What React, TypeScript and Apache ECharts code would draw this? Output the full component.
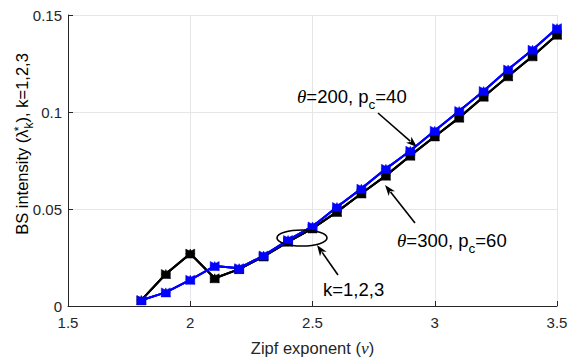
import React, { useEffect, useRef } from "react";
import * as echarts from "echarts";

// Zipf exponent values (x)
const zipfExponent = [1.8, 1.9, 2.0, 2.1, 2.2, 2.3, 2.4, 2.5, 2.6, 2.7, 2.8, 2.9, 3.0, 3.1, 3.2, 3.3, 3.4, 3.5];
// BS intensity for theta=200, pc=40 (blue)
const intensityTheta200 = [0.003, 0.007, 0.0135, 0.0206, 0.0195, 0.026, 0.034, 0.041, 0.051, 0.0605, 0.0707, 0.08, 0.0903, 0.1005, 0.1108, 0.1219, 0.1321, 0.1432];
// BS intensity for theta=300, pc=60 (black)
const intensityTheta300 = [0.003, 0.0165, 0.027, 0.0143, 0.019, 0.0255, 0.0331, 0.04, 0.0485, 0.058, 0.0672, 0.0775, 0.0874, 0.0971, 0.1079, 0.1184, 0.1287, 0.1398];
const kMarkers = [
  { symbol: "triangle", rotate: 90 },
  { symbol: "triangle", rotate: -90 },
  { symbol: "triangle", rotate: 0 },
];

const FONT = "'Liberation Sans', Arial, Helvetica, sans-serif";
const SERIF = "'Liberation Serif', 'Times New Roman', serif";

function arrow(x1: number, y1: number, x2: number, y2: number) {
  const dx = x2 - x1;
  const dy = y2 - y1;
  const len = Math.sqrt(dx * dx + dy * dy);
  const ux = dx / len;
  const uy = dy / len;
  const hl = 11;
  const hw = 4;
  const bx = x2 - ux * hl;
  const by = y2 - uy * hl;
  return [
    {
      type: "line",
      shape: { x1, y1, x2: bx + ux * 2, y2: by + uy * 2 },
      style: { stroke: "#000", lineWidth: 1.6 },
      z: 100,
    },
    {
      type: "polygon",
      shape: {
        points: [
          [x2, y2],
          [bx - uy * hw, by + ux * hw],
          [bx + ux * 3, by + uy * 3],
          [bx + uy * hw, by - ux * hw],
        ],
      },
      style: { fill: "#000" },
      z: 100,
    },
  ];
}

const richAnn = {
  m: { fontSize: 18.5, fontFamily: FONT, lineHeight: 21, verticalAlign: "top", color: "#000" },
  it: { fontSize: 19, fontFamily: SERIF, fontStyle: "italic", lineHeight: 21, verticalAlign: "top", color: "#000" },
  sub: { fontSize: 13.5, fontFamily: FONT, lineHeight: 13, padding: [11, 0, 0, 0], verticalAlign: "top", color: "#000" },
};

export default function App() {
  const ref = useRef<HTMLDivElement>(null);
  useEffect(() => {
    if (!ref.current) return;
    const chart = echarts.init(ref.current, undefined, { renderer: "svg" });
    const series: any[] = [];
    const groups = [
      { data: intensityTheta300, color: "#000000", name: "theta300" },
      { data: intensityTheta200, color: "#0000ff", name: "theta200" },
    ];
    groups.forEach((g) => {
      kMarkers.forEach((mk, i) => {
        series.push({
          type: "line",
          name: g.name + "_k" + (i + 1),
          data: zipfExponent.map((x, j) => [x, g.data[j]]),
          symbol: mk.symbol,
          symbolRotate: mk.rotate,
          symbolSize: 9,
          showAllSymbol: true,
          lineStyle: { color: g.color, width: 2 },
          itemStyle: { color: g.color, borderColor: g.color, borderWidth: 0.5 },
          z: 2,
        });
      });
    });

    chart.setOption({
      animation: false,
      grid: { left: 68, right: 16, top: 15, bottom: 54, containLabel: false },
      xAxis: {
        type: "value",
        min: 1.5,
        max: 3.5,
        interval: 0.5,
        name: "{m|Zipf exponent (}{it|ν}{m|)}",
        nameLocation: "middle",
        nameGap: 33,
        nameTextStyle: {
          fontSize: 16.5,
          fontFamily: FONT,
          color: "#262626",
          rich: {
            m: { fontSize: 16.5, fontFamily: FONT, color: "#262626" },
            it: { fontSize: 17.5, fontFamily: SERIF, fontStyle: "italic", color: "#262626" },
          },
        },
        axisLine: { show: true, onZero: false, lineStyle: { color: "#262626", width: 1 } },
        axisTick: { show: true, inside: true, length: 5, lineStyle: { color: "#262626" } },
        axisLabel: { fontSize: 15, fontFamily: FONT, color: "#262626", margin: 9 },
        splitLine: { show: true, lineStyle: { color: "#e6e6e6", width: 1 } },
      },
      yAxis: {
        type: "value",
        min: 0,
        max: 0.15,
        interval: 0.05,
        axisLine: { show: true, onZero: false, lineStyle: { color: "#262626", width: 1 } },
        axisTick: { show: true, inside: true, length: 5, lineStyle: { color: "#262626" } },
        axisLabel: { fontSize: 15, fontFamily: FONT, color: "#262626", margin: 6 },
        splitLine: { show: true, lineStyle: { color: "#e6e6e6", width: 1 } },
      },
      series,
      graphic: [
        {
          type: "text",
          x: 23,
          y: 144,
          rotation: Math.PI / 2,
          style: {
            text: "{m|BS intensity (λ}{sup|*}{sub|k}{m|), k=1,2,3}",
            align: "center",
            verticalAlign: "middle",
            rich: {
              m: { fontSize: 16.5, fontFamily: FONT, lineHeight: 20, verticalAlign: "top", color: "#262626" },
              sup: { fontSize: 12, fontFamily: FONT, lineHeight: 12, width: 1, padding: [0, 0, 0, 0], verticalAlign: "top", color: "#262626" },
              sub: { fontSize: 12, fontFamily: FONT, lineHeight: 12, padding: [10, 0, 0, 0], verticalAlign: "top", color: "#262626" },
            },
          },
          z: 100,
        },
        {
          type: "text",
          x: 297,
          y: 97,
          style: {
            text: "{it|θ}{m|=200, p}{sub|c}{m|=40}",
            align: "left",
            verticalAlign: "middle",
            rich: richAnn,
          },
          z: 100,
        },
        {
          type: "text",
          x: 397,
          y: 241,
          style: {
            text: "{it|θ}{m|=300, p}{sub|c}{m|=60}",
            align: "left",
            verticalAlign: "middle",
            rich: richAnn,
          },
          z: 100,
        },
        {
          type: "text",
          x: 323,
          y: 289,
          style: {
            text: "k=1,2,3",
            fontSize: 18.5,
            fontFamily: FONT,
            fill: "#000",
            align: "left",
            verticalAlign: "middle",
          },
          z: 100,
        },
        {
          type: "ellipse",
          shape: { cx: 302, cy: 238, rx: 25, ry: 8 },
          style: { fill: "none", stroke: "#000", lineWidth: 1.6 },
          z: 100,
        },
        ...arrow(378, 113, 417, 147),
        ...arrow(415, 223, 385, 185),
        ...arrow(338, 275, 317, 245),
      ],
    });
    return () => chart.dispose();
  }, []);
  return (
    <div
      ref={ref}
      style={{ position: "fixed", left: 0, top: 0, width: 573, height: 362, background: "#fff" }}
    />
  );
}
